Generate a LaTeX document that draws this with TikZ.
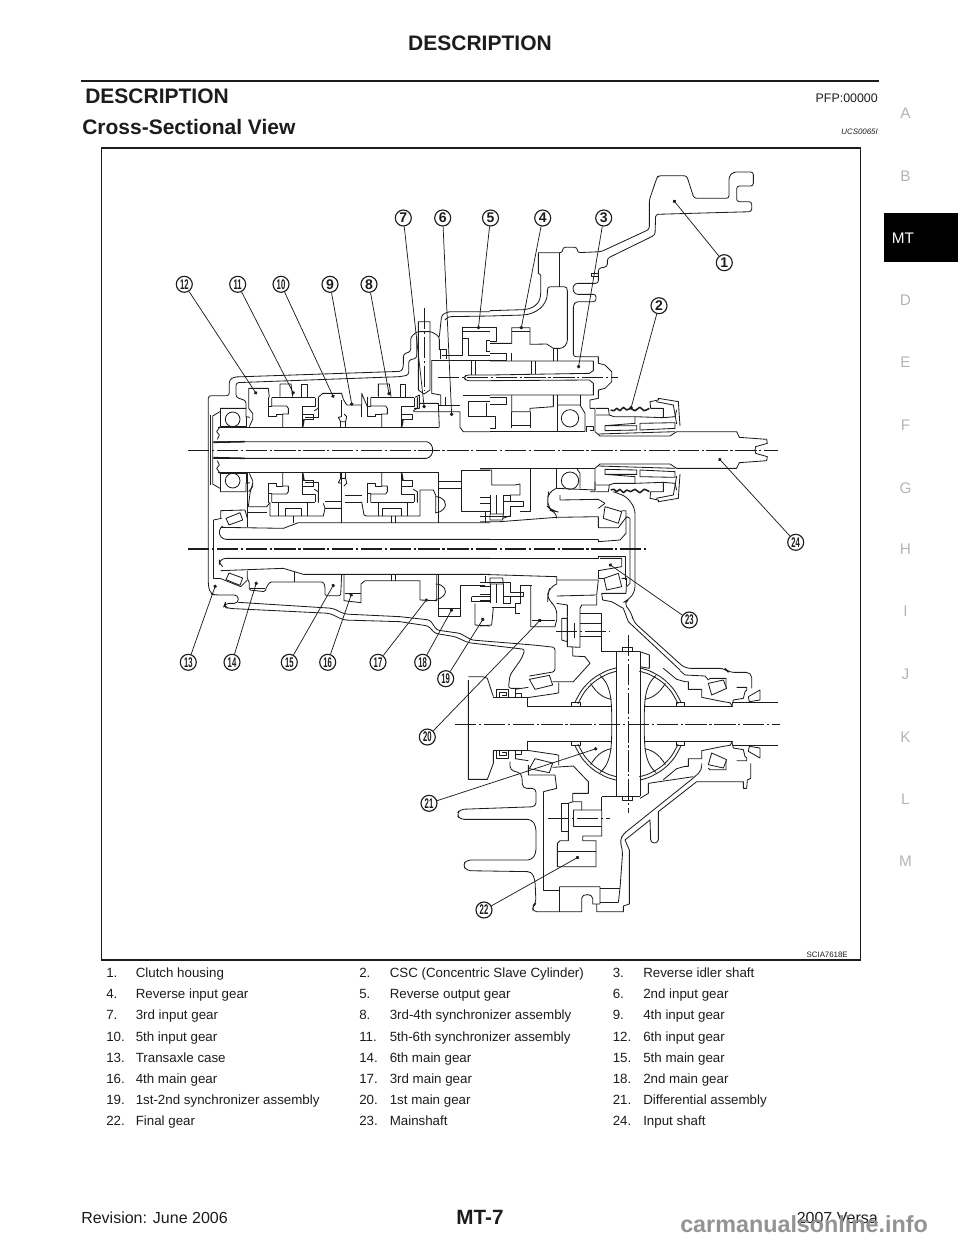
\documentclass[tikz,border=0pt]{standalone}
\usepackage{fontspec}
\setmainfont{Liberation Sans}
\usepackage{graphicx}
\usetikzlibrary{arrows.meta}
\definecolor{ink}{HTML}{1C1C1C}
\definecolor{tabgray}{HTML}{B4B4B4}
\tikzset{
  part/.style={draw=ink,line width=.62pt,line join=round},
  heavy/.style={draw=ink,line width=1.15pt,line join=round},
  axisline/.style={draw=ink,line width=.55pt,dash pattern=on 16pt off 2pt on 1.6pt off 2pt},
  mainaxis/.style={draw=ink,line width=.9pt,dash pattern=on 16pt off 2pt on 1.6pt off 2pt},
  z1/.style={shift={(170,160)},x=.25pt,y=-.25pt},
  z1m/.style={shift={(170,740)},x=.25pt,y=.25pt},
  z2/.style={shift={(490,160)},x=.25pt,y=-.25pt},
  z2m/.style={shift={(490,740)},x=.25pt,y=.25pt},
  z3/.style={shift={(170,440)},x=.25pt,y=-.25pt},
  z4/.style={shift={(480,440)},x=.25pt,y=-.25pt},
  z5/.style={shift={(400,680)},x=.25pt,y=-.25pt},
  z6/.style={shift={(400,600)},x=.25pt,y=-.25pt},
  z6m/.style={shift={(400,848)},x=.25pt,y=.25pt},
  callout/.style={circle,draw=ink,fill=white,line width=.85pt,inner sep=0pt,minimum size=12pt,
     font=\fontsize{10.5}{11}\selectfont\bfseries,text=ink},
  leader/.style={draw=ink,line width=.55pt,-{Circle[length=2.6pt,width=2.6pt]}},
  tabletext/.style={anchor=base west,inner sep=0pt,text=ink,font=\fontsize{10}{12}\selectfont},
  tabltr/.style={anchor=center,inner sep=0pt,text=tabgray,font=\fontsize{11.5}{12}\selectfont},
}
\newcommand{\SyncBody}{
  \draw[heavy] (305,713)--(435,713);
  \draw[part] (305,713)--(305,738)--(350,738)--(355,745)--(355,762)--(338,762)--(338,802);
  \draw[part] (435,713)--(435,738)--(397,738)--(397,802);
  \draw[part] (397,762)--(430,762)--(430,778)--(402,778);
  \draw[part] (295,712)--(295,770)--(320,770)--(320,762)--(338,762);
  \draw[part] (295,740)--(305,740);
  \draw[part] (445,712)--(445,745)--(433,752);
  \draw[heavy] (402,778)--(398,800);
}
\newcommand{\SyncRing}{
  \draw[part] (330,710)--(330,672)--(363,672)--(368,710);
  \draw[part] (395,710)--(395,672)--(412,672)--(412,710);
}
\newcommand{\InputHalf}{
  \draw[part] (145,802)--(808,802);
  \draw[part] (130,845)--(770,845) .. controls (782,848) and (788,858) .. (788,870);
  \draw[heavy] (130,847)--(225,845);
  \draw[part] (150,745)--(228,745)--(228,770)--(240,772);
  \draw[part] (150,745)--(150,800)--(228,800)--(228,770);
  \draw[part] (188,778) circle (22);
  \draw[part] (150,800)--(140,815)--(148,825)--(142,838);
  \draw[part] (236,745)--(248,760)--(248,778)--(238,800);
  \draw[part] (515,770)--(505,772)--(512,785)--(527,785)--(530,770)--(522,762);
  \draw[part] (512,785)--(512,802); \draw[part] (527,785)--(527,802);
  \draw[part] (515,720)--(515,770);
  \draw[part] (445,745)--(445,772)--(405,772);
  \draw[part] (128,870)--(128,768)--(150,755);
  \draw[part] (122,870)--(122,765);
  \SyncBody
  \begin{scope}[shift={(297,0)}]\SyncBody\end{scope}
}
\newcommand{\CscHalf}{
  \draw[heavy] plot[smooth] coordinates {(362,750)(372,752)(380,745)(390,752)(400,742)(410,750)(422,745)(435,752)(450,742)(462,752)(478,745)};
  \draw[part] (300,745)--(315,745)--(315,815)--(330,828)--(540,828)--(560,815)--(740,815)--(748,832)--(830,838)--(832,850)--(797,860)--(795,870);
  \draw[part] (318,745)--(355,745)--(358,765)--(318,765);
  \draw[part] (358,765)--(372,770)--(435,770)--(435,790)--(345,797)--(345,812)--(440,810)--(440,797)--(345,797);
  \draw[part] (450,790)--(555,788)--(555,805)--(450,810)--cycle;
  \draw[part] (435,770)--(520,773)--(520,745)--(482,745)--(480,725)--(505,720)--(505,715)--(565,725)--(570,798);
  \draw[part] (498,725)--(550,735)--(560,792);
  \draw[part] (520,773)--(555,770)--(560,750);
  \draw[part] (325,822)--(555,815);
}
\newcommand{\DiffArc}{
  \draw[part] plot[smooth] coordinates {(524.5,307.6)(546.6,268.5)(578.1,236.5)(616.8,213.7)(648.2,203.8)};
  \draw[part] plot[smooth] coordinates {(533.8,311.3)(554.6,274.5)(584.3,244.3)(620.7,222.9)(650.3,213.5)};
  \draw[part] (515,318)--(515,308)--(540,308)--(540,318);
  \draw[part] (572,250) .. controls (590,280) and (610,294) .. (635,298);
  \draw[part] (600,226) .. controls (625,250) and (637,275) .. (635,372);
}
\newcommand{\DiffHalf}{
  \DiffArc
  \begin{scope}[shift={(1368,0)},xscale=-1]\DiffArc\end{scope}
  \draw[part] (382,320)--(633,320); \draw[part] (735,320)--(1000,320);
  \draw[part] (648,155)--(648,372); \draw[part] (720,155)--(720,372);
  \draw[part] (648,155)--(720,155);
  \draw[part] (668,155)--(668,142)--(698,142)--(698,155);
  \draw[part] (382,320)--(382,293)--(280,293);
  \draw[part] (382,293)--(470,280)--(476,278)--(476,248);
  \draw[part] (290,292)--(290,268)--(325,268)--(325,292);
  \draw[part] (298,292)--(298,278)--(318,278)--(318,287)--(307,287);
  \draw[part] (388,238)--(448,226)--(458,255)--(405,268)--cycle;
  \draw[part] (345,268)--(385,262);
  \draw[part] (345,268)--(345,290); \draw[part] (345,280)--(365,280)--(365,292);
  \draw[part] (790,205)--(830,238)--(855,245)--(865,245)--(865,268)--(905,268)--(905,292)--(970,305)--(990,308)--(998,320);
  \draw[part] (925,250)--(970,240)--(980,265)--(935,285)--cycle;
  \draw[part] (925,240)--(930,235)--(978,235)--(978,262);
  \draw[part] (1010,262)--(1040,262)--(1040,270)--(1035,275)--(1030,295)--(1000,300)--(995,320);
  \draw[part] (1045,290)--(1080,270)--(1080,300)--(1048,305)--cycle;
  \draw[part] (1000,308)--(1133,308);
}
\newcommand{\HubHalf}{
  \draw[part] (0,172)--(30,172); \draw[part] (0,190)--(30,190); \draw[part] (0,215)--(30,215);
  \draw[part] (30,165)--(30,222); \draw[part] (48,165)--(48,222); \draw[part] (70,165)--(70,222);
  \draw[part] (30,222)--(70,222)--(68,240)--(30,240)--cycle;
  \draw[part] (70,185)--(130,185)--(130,198)--(90,198)--(90,228)--(0,228);
  \draw[part] (70,165)--(90,165)--(90,185);
  \draw[part] (15,228)--(15,245);
}
\begin{document}
\begin{tikzpicture}[x=.75pt,y=-.75pt]
\useasboundingbox (0,0) rectangle (960,1242);
% ===== page furniture =====
\node[anchor=center,inner sep=0pt,font=\fontsize{15.75}{18}\selectfont\bfseries,text=ink] (head) at (480,43) {DESCRIPTION};
\coordinate (ruleL) at (81,81); \coordinate (ruleR) at (879,81);
\draw[line width=1.7pt,draw=ink] (ruleL)--(ruleR);
\node[anchor=base west,inner sep=0pt,font=\fontsize{15.75}{18}\selectfont\bfseries,text=ink] (sec) at (85,103.5) {DESCRIPTION};
\node[anchor=base east,inner sep=0pt,font=\fontsize{9.3}{11}\selectfont,text=ink] (pfp) at (878,102.5) {PFP:00000};
\node[anchor=base west,inner sep=0pt,font=\fontsize{15.75}{18}\selectfont\bfseries,text=ink] (sub) at (82,134) {Cross-Sectional View};
\node[anchor=base east,inner sep=0pt,font=\fontsize{5.9}{7}\selectfont\itshape,text=ink] (ucs) at (878,134) {UCS0065I};
\draw[line width=1pt,draw=ink] (101.5,148) rectangle (860.5,960);
\node[anchor=base east,inner sep=0pt,font=\fontsize{5.9}{7}\selectfont,text=ink] (scia) at (848,957) {SCIA7618E};
\foreach \L/\Y in {A/113.5,B/176.5,D/300,E/362,F/425,G/488,H/549,I/611,J/674,K/737,L/799,M/861}{
  \node[tabltr] (tab\L) at (905.5,\Y) {\L};
}
\fill[black] (884,213) rectangle (958,262);
\node[anchor=center,inner sep=0pt,text=white,font=\fontsize{11.5}{12}\selectfont] (tabMT) at (903,238) {MT};
\node[anchor=base west,inner sep=0pt,font=\fontsize{12}{14}\selectfont,text=ink] (rev) at (81,1223) {Revision: June 2006};
\node[anchor=center,inner sep=0pt,font=\fontsize{15.5}{18}\selectfont\bfseries,text=ink] (pg) at (480,1217) {MT-7};
\node[anchor=base east,inner sep=0pt,font=\fontsize{12}{14}\selectfont,text=ink] (ver) at (878,1223) {2007 Versa};
\node[anchor=base west,inner sep=0pt,font=\fontsize{17.5}{20}\selectfont\bfseries,text=gray!85] (wm) at (680,1232) {carmanualsonline.info};
\foreach \R/\Y/\Aa/\Ab/\Ba/\Bb/\Ca/\Cb in {
 a/977.5/1./Clutch housing/2./CSC (Concentric Slave Cylinder)/3./Reverse idler shaft,
 b/998.5/4./Reverse input gear/5./Reverse output gear/6./2nd input gear,
 c/1019.5/7./3rd input gear/8./3rd-4th synchronizer assembly/9./4th input gear,
 d/1041/10./5th input gear/11./5th-6th synchronizer assembly/12./6th input gear,
 e/1062/13./Transaxle case/14./6th main gear/15./5th main gear,
 f/1083/16./4th main gear/17./3rd main gear/18./2nd main gear,
 g/1104/19./1st-2nd synchronizer assembly/20./1st main gear/21./Differential assembly,
 h/1125.5/22./Final gear/23./Mainshaft/24./Input shaft}{
  \node[tabletext] (n1\R) at (106,\Y) {\Aa};
  \node[tabletext] (t1\R) at (135.5,\Y) {\Ab};
  \node[tabletext] (n2\R) at (359,\Y) {\Ba};
  \node[tabletext] (t2\R) at (389.5,\Y) {\Bb};
  \node[tabletext] (n3\R) at (612.5,\Y) {\Ca};
  \node[tabletext] (t3\R) at (643,\Y) {\Cb};
}
% ===== centre lines =====
\coordinate (ax1a) at (188,450); \coordinate (ax1b) at (778,450);
\coordinate (ax2a) at (188,549); \coordinate (ax2b) at (648,549);
\coordinate (ax3a) at (455,724); \coordinate (ax3b) at (780,724);
\coordinate (ax4a) at (438,377); \coordinate (ax4b) at (618,377);
\coordinate (ax5a) at (424,308); \coordinate (ax5b) at (424,390);
\coordinate (ax6a) at (628,635); \coordinate (ax6b) at (628,813);
\coordinate (ax7a) at (556,631); \coordinate (ax7b) at (610,631);
\coordinate (ax8a) at (548,818); \coordinate (ax8b) at (610,818);
\draw[axisline] (ax1a)--(ax1b);
\draw[mainaxis] (ax2a)--(ax2b);
\draw[axisline] (ax3a)--(ax3b);
\draw[axisline] (ax4a)--(ax4b);
\draw[axisline] (ax5a)--(ax5b);
\draw[axisline] (ax6a)--(ax6b);
\draw[axisline] (ax7a)--(ax7b);
\draw[axisline] (ax8a)--(ax8b);
% ===== input-shaft assembly =====
\begin{scope}[z1]\InputHalf\end{scope}
\begin{scope}[z1m]\InputHalf\end{scope}
\begin{scope}[z2]\CscHalf\end{scope}
\begin{scope}[z2m]\CscHalf\end{scope}
\begin{scope}[z1]
  \SyncRing
  \begin{scope}[shift={(295,0)}]\SyncRing\end{scope}
  \draw[part,rounded corners=2pt] (115,870)--(115,707)--(178,707)--(178,660)--(192,651)--(695,634)--(700,620)--(700,582)--(722,575)--(722,532)--(740,515)--(785,515)--(808,530)--(808,570);
  \draw[part,rounded corners=2pt] (228,745)--(228,722)--(198,712)--(198,668)--(690,650)--(716,645)--(716,600)--(740,595)--(740,530);
  \draw[part,rounded corners=2pt] (808,530)--(815,465)--(835,455)--(960,455);
  \draw[part,rounded corners=2pt] (825,480)--(835,470)--(960,468);
  \draw[part] (236,745)--(236,685)--(295,685)--(298,712);
  \draw[part] (445,712)--(458,700)--(515,700)--(520,718);
  \draw[part] (530,735)--(575,735)--(575,700)--(592,740);
  \draw[part] (520,718)--(530,735);
  \draw[part] (575,735)--(575,770);
  \draw[part] (732,745)--(748,745)--(748,705)--(735,712);
  \draw[part] (748,730)--(805,730)--(808,802);
  \draw[part] (730,755)--(870,755)--(870,802)--(880,815)--(960,815);
  \draw[part] (808,735)--(870,735);
  \draw[part] (825,710)--(825,735);
  \draw[part] (745,485)--(780,485)--(780,690)--(762,702)--(745,690)--cycle;
  \draw[part] (745,515)--(780,515);
  \draw[part] (785,600)--(785,700)--(812,705)--(812,735);
  \draw[part] (785,600)--(960,600);
  \draw[part] (810,598)--(810,568)--(830,568)--(830,598);
  \draw[part] (815,585)--(878,585)--(878,502)--(960,502);
  \draw[part] (878,535)--(895,535)--(895,585)--(960,585);
  \draw[part] (878,515)--(960,515);
  \draw[part] (950,540)--(960,540); \draw[part] (950,575)--(960,575); \draw[part] (950,540)--(950,575);
  \draw[part] (905,600)--(905,645); \draw[part] (917,600)--(917,645);
  \draw[part,rounded corners=2pt] (960,645)--(888,645)--(882,653)--(888,662)--(960,662);
  \draw[part] (880,705)--(960,705);
  \draw[part] (895,725)--(895,770)--(960,770);
  \draw[part] (950,730)--(950,770);
  \draw[part] (895,725)--(960,725);
\end{scope}
\begin{scope}[z2]
  \draw[part,rounded corners=2pt] (145,278)--(218,278)--(218,262)--(262,262)--(262,278)--(333,275)--(478,208)--(478,120)--(500,55)--(505,47)--(590,47)--(612,115)--(717,115)--(717,50)--(730,36)--(790,36)--(790,78)--(740,78)--(740,125)--(785,125)--(785,155)--(497,163)--(495,225)--(352,295)--(352,320)--(325,325)--(325,370)--(255,370)--(247,385)--(255,403)--(318,403)--(318,425)--(258,425)--(250,435)--(250,590)--(310,590);
  \draw[part] (145,278)--(145,340)--(152,345)--(152,400) .. controls (152,435) and (125,447) .. (100,449)--(0,452);
  \draw[part] (0,468)--(100,465) .. controls (140,462) and (172,435) .. (172,400)--(172,390) .. controls (172,383) and (176,380) .. (182,380)--(222,380) .. controls (229,380) and (232,384) .. (232,392)--(232,540) .. controls (232,552) and (222,565) .. (210,565)--(190,565)--(170,552)--(120,553)--(120,503)--(65,503)--(65,550)--(0,550);
  \draw[part] (208,278)--(208,380);
  \draw[part] (305,340)--(325,340); \draw[part] (305,340)--(305,350)--(325,350);
  \draw[part] (65,515)--(120,515);
  \draw[part] (190,565)--(190,603); \draw[part] (203,565)--(203,603);
  \draw[part] (0,503)--(18,503)--(18,545)--(0,545);
  \draw[part] (0,580)--(48,580)--(48,600)--(0,600);
  \draw[part] (65,580)--(65,603);
  \draw[part] (0,603)--(310,603)--(310,632)--(298,640)--(0,645);
  \draw[part] (125,603)--(125,642); \draw[part] (135,603)--(135,642);
  \draw[part] (310,590)--(325,590)--(325,610)--(345,615)--(365,635)--(365,665)--(345,685)--(325,690)--(325,715)--(300,720)--(300,745);
  \draw[part] (0,662)--(298,660)--(310,670)--(310,705)--(0,705);
  \draw[part] (65,705)--(65,755)--(120,755)--(120,745)--(190,740)--(190,705);
  \draw[part] (65,755)--(65,805); \draw[part] (120,755)--(120,805);
  \draw[part] (65,795)--(120,795);
  \draw[part] (0,712)--(48,712)--(48,733)--(0,733);
  \draw[part] (0,770)--(15,770)--(15,805)--(0,805);
  \draw[part] (0,815)--(285,815);
  \draw[part] (203,705)--(203,815);
  \draw[part] (203,735)--(270,735)--(285,760)--(285,815);
  \draw[part] (270,735)--(270,705);
  \draw[part] (240,775) circle (26);
  \draw[part] (290,815)--(290,800)--(310,800)--(310,810)--(300,810);
\end{scope}
% ===== main shaft =====
\begin{scope}[z3]
  \draw[part,rounded corners=3pt] (115,30)--(115,440)--(122,462)--(135,465)--(205,465)--(205,490)--(165,490)--(162,498)--(172,505)--(480,520)--(520,540)--(690,545);
  \draw[part,rounded corners=3pt] (205,487)--(490,505)--(522,522)--(690,530);
  \draw[part] (130,240)--(130,415)--(150,415);
  \draw[part] (130,240)--(155,235);
  \draw[part] (152,235)--(152,212)--(225,210)--(232,235);
  \draw[part] (232,100)--(232,262);
  \draw[part] (248,130)--(240,160)--(235,200);
  \draw[part] (168,235)--(210,218)--(218,240)--(177,255)--cycle;
  \draw[part,rounded corners=2pt] (158,258)--(148,268)--(148,285)--(160,298)--(960,298);
  \draw[part,rounded corners=2pt] (158,380)--(148,368)--(148,365)--(160,355)--(960,355);
  \draw[part] (152,262)--(340,265)--(385,248)--(960,248);
  \draw[part] (152,392)--(340,385)--(400,403)--(960,403);
  \draw[part] (235,200)--(290,200)--(300,188); \draw[part] (235,218)--(290,218);
  \draw[part] (300,188)--(300,228)--(460,228)--(465,205)--(515,205);
  \draw[part] (325,190)--(325,228); \draw[part] (412,190)--(412,228);
  \draw[part] (345,228)--(345,205)--(395,205)--(395,228);
  \draw[part] (370,228)--(370,248);
  \draw[part] (460,190)--(465,205); \draw[part] (465,185)--(515,185);
  \draw[part] (515,100)--(515,248);
  \draw[part] (525,166)--(575,166); \draw[part] (525,187)--(575,187);
  \draw[part] (575,185)--(582,225)--(590,228)--(750,228)--(750,150)--(790,150)--(797,165)--(797,220);
  \draw[part] (625,190)--(625,228); \draw[part] (712,190)--(712,228);
  \draw[part] (638,228)--(638,205)--(695,205)--(695,228);
  \draw[part] (665,228)--(665,248); \draw[part] (675,228)--(675,248);
  \draw[part] (797,170) .. controls (820,170) and (836,190) .. (820,208) .. controls (815,214) and (806,218) .. (797,218);
  \draw[part] (805,98)--(805,248);
  \draw[part] (805,125)--(875,125); \draw[part] (805,145)--(875,145);
  \draw[part] (875,90)--(875,215)--(945,215)--(945,248);
  \draw[part] (875,90)--(960,90);
  \draw[part] (372,395)--(372,425);
  \draw[part,rounded corners=1pt] (232,392)--(232,418)--(238,425)--(238,450)--(285,455)--(290,440)--(300,426)--(460,426)--(465,440)--(465,467)--(512,467)--(515,403);
  \draw[part] (240,445)--(285,445);
  \draw[part] (522,403)--(522,482)--(573,488)--(573,432)--(585,422)--(750,422)--(750,480)--(800,482)--(800,403);
  \draw[part] (525,460)--(573,460);
  \draw[part] (665,403)--(665,422); \draw[part] (675,403)--(675,422);
  \draw[part] (797,432) .. controls (820,432) and (836,452) .. (820,468) .. controls (815,474) and (806,478) .. (797,478);
  \draw[part] (805,403)--(805,528)--(872,528)--(872,435)--(945,435);
  \draw[part] (805,505)--(872,505);
  \draw[part] (168,419)--(210,436)--(218,414)--(177,399)--cycle;
  \draw[part] (150,415)--(212,440)--(232,420);
  \draw[part] (905,470)--(960,470); \draw[part] (905,470)--(905,485)--(960,485);
  \draw[part] (915,490)--(915,555)--(960,558);
\end{scope}
\begin{scope}[z4]
  \HubHalf
  \draw[part] (0,90)--(35,90)--(35,135)--(105,135)--(120,132)--(120,165)--(90,165);
  \draw[part] (0,85)--(345,85);
  \draw[part] (0,245)--(60,245)--(230,232);
  \draw[part] (68,235)--(90,228);
  \draw[part] (152,85)--(152,215)--(120,215);
  \draw[part] (230,85)--(230,145);
  \draw[part,rounded corners=5pt] (230,145)--(206,155)--(203,175)--(203,200)--(215,212)--(230,215)--(230,235);
  \draw[part] (270,122) circle (26);
  \draw[part] (290,85)--(300,100)--(300,145);
  \draw[part] (230,145)--(345,150)--(345,125);
  \draw[part] (240,165)--(240,180)--(355,178)--(375,190);
  \draw[part] (230,232)--(355,230)--(355,263)--(415,263)--(440,230);
  \draw[part] (355,205)--(375,190);
  \draw[part] (375,200)--(425,215)--(415,250)--(370,235)--cycle;
  \draw[part] (425,212)--(438,212)--(438,280)--(420,300)--(355,305)--(355,298);
  \draw[part] (0,298)--(355,298);
  \draw[part] (0,355)--(355,355)--(355,350)--(437,350)--(437,420);
  \draw[part] (355,390)--(355,415)--(372,415);
  \draw[part] (355,392)--(425,380)--(425,355)--(360,355);
  \draw[part] (372,415)--(415,400)--(425,440)--(380,450)--cycle;
  \draw[part] (425,415)--(440,415)--(438,460)--(365,460)--(368,480)--(395,485)--(430,505)--(445,545)--(600,690);
  \draw[part] (0,403)--(230,410)--(230,432);
  \draw[part] (230,420)--(355,420)--(350,465)--(230,468);
  \draw[part,rounded corners=5pt] (230,432)--(210,440)--(203,465)--(203,480)--(230,500)--(230,540);
  \draw[part] (152,435)--(152,560)--(225,560)--(230,540);
  \draw[part] (155,435)--(120,435)--(120,490)--(105,490)--(105,520)--(120,520);
  \draw[part] (155,540)--(225,540);
  \draw[part] (35,503)--(105,503);
  \draw[part] (40,503)--(35,555)--(0,558);
  \draw[part] (230,490)--(262,495)--(262,530);
  \draw[part] (245,535)--(262,535)--(262,605)--(245,600)--cycle;
  \draw[part] (262,530)--(262,620)--(300,622)--(300,505)--(305,495)--(350,495)--(350,468);
  \draw[part] (300,520)--(365,520)--(365,635)--(408,635);
  \draw[part] (300,550)--(365,550); \draw[part] (300,590)--(365,590);
  \draw[part] (283,550)--(283,595);
  \draw[part,rounded corners=4pt] (400,155)--(440,170)--(465,205)--(465,455)--(445,480)--(430,487)--(455,520)--(460,545)--(615,685)--(735,685)--(745,697)--(815,697)--(815,745);
  \draw[part] (450,235)--(450,430)--(440,440);
  \draw[part] (440,230)--(450,235);
\end{scope}
\begin{scope}[shift={(480,658)},x=.25pt,y=.25pt]
  \HubHalf
\end{scope}
% ===== differential =====
\begin{scope}[z6]\DiffHalf\end{scope}
\begin{scope}[z6m]\DiffHalf\end{scope}
\begin{scope}[z6]
  \draw[part,rounded corners=2pt] (0,50)--(90,60)--(110,90)--(180,100)--(215,120)--(400,135)--(465,142)--(465,215)--(388,228);
  \draw[part,rounded corners=2pt] (0,65)--(85,78)--(105,100)--(165,110)--(205,128)--(375,148)--(365,175)--(330,225)--(325,265)--(360,265);
  \draw[part] (205,230)--(248,230)--(262,235)--(280,290);
  \draw[part] (458,245)--(520,245)--(570,190)--(555,170)--(518,168)--(518,140);
  \draw[part] (605,155)--(648,155);
  \draw[part] (545,40)--(605,40)--(605,155);
  \draw[part] (720,155)--(748,165)--(748,205)--(720,200);
  \draw[part] (840,212)--(855,225)--(915,228)--(925,240);
\end{scope}
\begin{scope}[z5]
  \draw[part] (205,0)--(205,298)--(262,298)--(280,250)--(280,213);
  \draw[part,rounded corners=3pt] (330,245)--(330,270)--(365,280)--(368,325)--(408,325)--(408,380)--(180,388)--(170,403)--(180,418)--(395,418)--(408,440)--(408,520)--(395,540)--(200,540)--(188,555)--(200,572)--(395,575)--(405,600)--(408,670)--(398,678)--(398,695)--(478,695);
  \draw[part] (430,335)--(430,630)--(478,630);
  \draw[part] (430,335)--(470,325)--(465,285)--(385,285)--(385,255);
  \draw[part] (458,262)--(520,258)--(565,305)--(565,340)--(518,340)--(518,365)--(545,365)--(545,390);
  \draw[part] (485,370)--(505,370)--(505,455)--(485,455)--cycle;
  \draw[part] (518,365)--(505,370);
  \draw[part] (520,390)--(605,390)--(605,468)--(548,468)--(548,482)--(588,482)--(588,560)--(472,560)--(472,490)--(480,482)--(505,482)--(505,455);
  \draw[part] (520,390)--(520,440)--(605,440);
  \draw[part] (472,515)--(588,515);
  \draw[part] (605,350)--(648,350);
  \draw[part] (605,350)--(605,390);
  \draw[part] (478,620)--(478,695);
  \draw[part] (478,620)--(600,620)--(600,672)--(578,672)--(578,655) .. controls (578,640) and (545,640) .. (545,655)--(545,695)--(478,695);
  \draw[part] (600,625)--(660,625);
  \draw[part] (600,668)--(655,668);
  \draw[part] (590,672)--(590,695)--(670,695)--(670,678)--(688,672)--(688,510)--(675,480)--(750,420)--(752,480) .. controls (755,492) and (772,492) .. (775,480)--(775,395)--(890,305)--(1030,305)--(1030,325)--(1040,325)--(1042,300)--(1052,295)--(1052,250);
  \draw[part,rounded corners=3pt] (655,668)--(660,625)--(668,515)--(660,480)--(670,462)--(885,290)--(905,270)--(905,250);
  \draw[part] (720,355)--(745,340)--(745,310)--(880,290);
\end{scope}
% ===== callouts =====
\newcommand{\calltext}[1]{\ifnum#1>9 \scalebox{.55}[1]{#1}\else #1\fi}
\foreach \n/\cx/\cy/\tx/\ty in {
 1/724.3/262.7/673.3/200, 2/659/305.7/630.7/409.3, 3/603.7/218/578.3/368.3,
 4/542.7/218/521/329.3, 5/490.5/218/478.3/329.3, 6/442.7/218/451.7/416,
 7/403.3/218/424.3/408.3, 8/369/284.3/389.3/395.3, 9/330/284.3/352/405.7,
 10/281/284.3/333.7/397.7, 11/237.7/284.3/294/394.3, 12/184.3/284.3/256.7/394.3,
 13/188.3/662.3/215.7/584.7, 14/232/662.3/256.7/581.7, 15/289.3/662.3/334/584,
 16/327.7/662.3/351.7/593.3, 17/378/662.3/427.3/598.7, 18/422.7/662.3/452.3/608.7,
 19/445.7/678.7/483.7/618, 20/427.3/737/541/619.3, 21/429/803.3/597.3/748.3,
 22/484/910/579/856.7, 23/689.3/620/609/564, 24/795.7/542.3/718.7/458.3}{
  \coordinate (tip\n) at (\tx,\ty);
  \node[callout] (call\n) at (\cx,\cy) {\calltext{\n}};
  \draw[leader] (call\n) -- (tip\n);
}
\end{tikzpicture}
\end{document}
